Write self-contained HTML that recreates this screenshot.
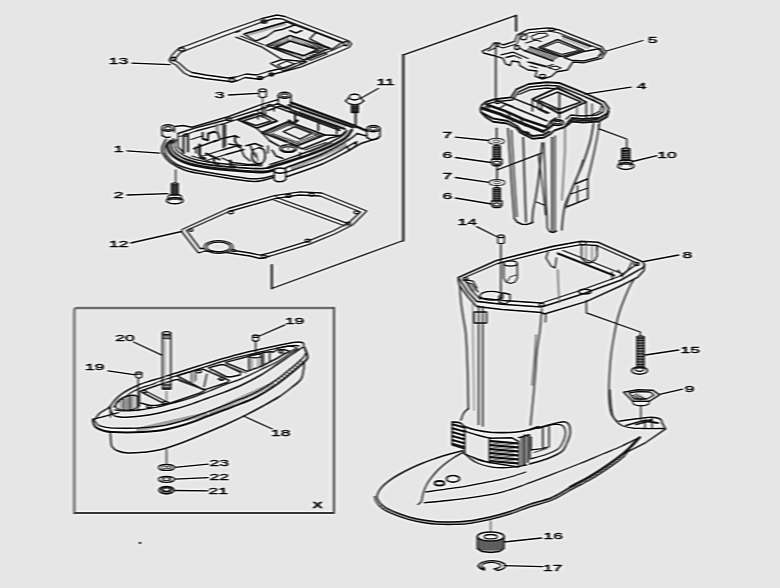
<!DOCTYPE html>
<html lang="en">
<head>
<meta charset="utf-8">
<title>Upper casing exploded parts diagram</title>
<style>
html,body{margin:0;padding:0;background:#e6e6e6;}
body{width:780px;height:588px;overflow:hidden;font-family:"Liberation Sans",Arial,sans-serif;}
#diagram{display:block;width:780px;height:588px;background:#e6e6e6;}
#diagram svg{display:block;}
</style>
</head>
<body>
<div id="diagram">
<svg width="780" height="588" viewBox="0 0 780 588">
<defs><filter id="soft" x="0" y="0" width="100%" height="100%" filterUnits="objectBoundingBox" color-interpolation-filters="sRGB"><feGaussianBlur in="SourceGraphic" stdDeviation="0.85 0.5" result="a"/><feGaussianBlur in="a" stdDeviation="2 1.3" result="b"/><feComposite in="a" in2="b" operator="arithmetic" k1="0" k2="1.4" k3="-0.4" k4="0"/></filter></defs>
<g filter="url(#soft)">
<rect x="-10" y="-10" width="800" height="608" fill="#e6e6e6"/>
<g fill="none" stroke="#202020" stroke-width="1.3" stroke-linecap="round" stroke-linejoin="round">
<!-- assembly bracket -->
<path d="M516.2 30.8 L516.2 15.4 L402.8 55.1"/>
<path d="M403.3 55.1 L403.3 240.5" stroke-width="2.3" stroke="#2a2a2a"/>
<path d="M403.3 240.5 L271.8 288.5"/>
<path d="M271.8 288.5 L271.8 264.9" stroke-width="2"/>
<path d="M516.2 30.8 L516.2 15.4" stroke-width="1.9"/>
<!-- inset box -->
<path d="M74.4 512.9 L74.4 310.4 Q74.4 307.9 77 307.9 L334 307.9" stroke="#7a7a7a" stroke-width="2.5"/>
<path d="M334 307.9 L334 512.9 L74.4 512.9" stroke="#4e4e4e" stroke-width="2"/>
<path d="M73.6 310 L73.6 512" stroke="#8a8a8a" stroke-width="1.6"/>
<!-- gasket 13 -->
<path d="M169 60 L172 55 L177 50 L180 47.5 L187 45.5 L223 32 L262 18.5 L277 15 L285 16.5 L349 41 L351.5 44 L349 47.5 L335 53.5 L300.6 67.2 L282 72 L270 75 L264 77.5 L257 79 L245 77.5 L238 80.5 L232 82 L226 81 L205 78.5 L190 76 L184 73 L176 65 L171 62.5 Z"/>
<path d="M174 60 L180 53 L188 49.5 L224 36 L262 22 L275 18.5 L282 18.8 L343.7 42.6 L344 45 L333 50 L299 62.5 L281 68.5 L268 71.5 L257 75 L246 74 L236 77 L228 78 L206 75 L192 72.5 L187 70 L179 63 Z"/>
<ellipse cx="173.5" cy="59" rx="2.4" ry="1.7" stroke-width="1.5"/>
<ellipse cx="181.8" cy="49.4" rx="2.8" ry="1.7" stroke-width="1.5"/>
<ellipse cx="232" cy="80" rx="2.8" ry="1.6" stroke-width="1.5"/>
<ellipse cx="260" cy="78" rx="2.6" ry="1.5" stroke-width="1.5"/>
<ellipse cx="271.4" cy="74.5" rx="2.2" ry="1.4" stroke-width="1.5"/>
<ellipse cx="264" cy="21.5" rx="3" ry="1.6" stroke-width="1.5"/>
<ellipse cx="346" cy="43.5" rx="1.8" ry="2.2" stroke-width="1.5"/>
<path d="M243.7 34.2 L286.8 21.8 L294.5 25 L282 29.5 L274.5 31 L266.8 36.5 L256 41 Z" stroke-width="1.4"/>
<path d="M245.2 33.5 L286 21.8"/>
<path d="M247.4 33 L248.9 35.4" stroke-width="1"/>
<path d="M250.2 32.2 L251.7 34.6" stroke-width="1"/>
<path d="M253 31.4 L254.5 33.8" stroke-width="1"/>
<path d="M255.8 30.6 L257.2 33" stroke-width="1"/>
<path d="M258.5 29.8 L260 32.2" stroke-width="1"/>
<path d="M261.3 29 L262.8 31.4" stroke-width="1"/>
<path d="M264.1 28.2 L265.6 30.6" stroke-width="1"/>
<path d="M266.9 27.4 L268.4 29.8" stroke-width="1"/>
<path d="M269.7 26.6 L271.2 29" stroke-width="1"/>
<path d="M272.5 25.8 L274 28.2" stroke-width="1"/>
<path d="M275.2 25 L276.8 27.4" stroke-width="1"/>
<path d="M278 24.2 L279.5 26.6" stroke-width="1"/>
<path d="M280.8 23.4 L282.3 25.8" stroke-width="1"/>
<path d="M283.6 22.6 L285.1 25" stroke-width="1"/>
<path d="M240 31 L236 32.3"/>
<path d="M236 37.2 L262 47.2 L282 59.5" stroke-width="1.4"/>
<path d="M240.5 36 L264 45" stroke-width="1.1"/>
<path d="M276 47.2 L289.8 41 L317.5 49.5 L303.7 55.7 Z" stroke-width="1.5"/>
<path d="M266 45.5 L289.8 35.5 L330 48 L303.7 59.8 Z" stroke-width="1.4"/>
<path d="M268.7 44.9 L277.7 47" stroke-width="1"/>
<path d="M271.1 43.9 L279.1 46.3" stroke-width="1"/>
<path d="M273.5 42.9 L280.6 45.7" stroke-width="1"/>
<path d="M275.9 41.9 L282 45.1" stroke-width="1"/>
<path d="M278.2 40.9 L283.4 44.5" stroke-width="1"/>
<path d="M280.6 39.9 L284.8 43.8" stroke-width="1"/>
<path d="M283 38.9 L286.2 43.2" stroke-width="1"/>
<path d="M285.4 37.9 L287.7 42.5" stroke-width="1"/>
<path d="M287.8 36.9 L289.1 41.9" stroke-width="1"/>
<path d="M292.4 36.8 L291.5 41.6" stroke-width="1"/>
<path d="M295.3 37.6 L293.6 42.2" stroke-width="1"/>
<path d="M298.2 38.5 L295.6 42.9" stroke-width="1"/>
<path d="M301.1 39.4 L297.6 43.5" stroke-width="1"/>
<path d="M304 40.3 L299.7 44.1" stroke-width="1"/>
<path d="M306.9 41.2 L301.7 44.8" stroke-width="1"/>
<path d="M309.8 42.1 L303.8 45.4" stroke-width="1"/>
<path d="M312.6 43 L305.8 46" stroke-width="1"/>
<path d="M315.5 44 L307.8 46.7" stroke-width="1"/>
<path d="M318.4 44.8 L309.9 47.3" stroke-width="1"/>
<path d="M321.3 45.8 L311.9 47.9" stroke-width="1"/>
<path d="M324.2 46.6 L313.9 48.6" stroke-width="1"/>
<path d="M327.1 47.5 L316 49.2" stroke-width="1"/>
<path d="M269.5 47 L278.6 48.3" stroke-width="1"/>
<path d="M272.4 48.1 L280.8 48.9" stroke-width="1"/>
<path d="M275.3 49.1 L283 49.5" stroke-width="1"/>
<path d="M278.2 50.2 L285.1 50.1" stroke-width="1"/>
<path d="M281.1 51.3 L287.3 50.7" stroke-width="1"/>
<path d="M284 52.3 L289.5 51.3" stroke-width="1"/>
<path d="M287 53.4 L291.7 52" stroke-width="1"/>
<path d="M289.9 54.4 L293.9 52.6" stroke-width="1"/>
<path d="M292.8 55.5 L296.1 53.2" stroke-width="1"/>
<path d="M295.7 56.6 L298.2 53.8" stroke-width="1"/>
<path d="M298.6 57.6 L300.4 54.4" stroke-width="1"/>
<path d="M301.5 58.7 L302.6 55" stroke-width="1"/>
<path d="M307 58.1 L305.5 54.9" stroke-width="1"/>
<path d="M311 56.4 L307.6 54" stroke-width="1"/>
<path d="M315 54.7 L309.7 53.1" stroke-width="1"/>
<path d="M319 52.9 L311.8 52.2" stroke-width="1"/>
<path d="M323 51.2 L313.9 51.3" stroke-width="1"/>
<path d="M327 49.5 L316 50.4" stroke-width="1"/>
<path d="M289.8 30.5 L296 33 L302 30.5" stroke-width="1.5"/>
<path d="M316 32.6 L342 42.6 L331.4 49.5 L309.8 38.8 Z" stroke-width="1.4"/>
<path d="M294.5 25 L316 32.6"/>
<path d="M308.3 58.8 L325.2 52.6 L327 54 L310 60.5 Z"/>
<path d="M270.6 63.4 L282 59.5 L306.8 61.8 L283.7 71 Z" stroke-width="1.4"/>
<path d="M277.5 65 L286.8 61 L294.5 64 L283.7 68.8 Z"/>
<ellipse cx="302" cy="62.5" rx="2" ry="1.2"/>
<path d="M132 63.2 L170 64.6"/>
<!-- pin 3 -->
<path d="M259 90.5 L259 96.5 L262.6 97.8 L266.3 96.5 L266.3 90.5"/>
<ellipse cx="262.6" cy="90.3" rx="3.6" ry="1.5"/>
<path d="M262.6 98.5 L262.6 107" stroke="#555"/>
<path d="M228.5 95 L257.7 93.3"/>
<!-- bolt 11 -->
<path d="M349 97 L350.5 94.8 L354.6 94 L358.7 94.8 L360.2 97 L358.7 99.2 L354.6 100 L350.5 99.2 Z"/>
<path d="M345.5 101 L349 97.5"/>
<path d="M363.8 101 L360.2 97.5"/>
<path d="M345.5 101 C346.1 101.4 347.5 103 349 103.6 C350.5 104.2 352.7 104.6 354.6 104.6 C356.5 104.6 358.7 104.2 360.2 103.6 C361.7 103 363.2 101.4 363.8 101"/>
<path d="M351.5 104.6 L351.5 112.5 L358.2 112.5 L358.2 104.6" stroke-width="1.5" fill="#4a4a4a"/>
<path d="M351.5 106.8 L358.2 106.8" stroke-width="1"/>
<path d="M351.5 108.4 L358.2 108.4" stroke-width="1"/>
<path d="M351.5 110.1 L358.2 110.1" stroke-width="1"/>
<path d="M351.5 111.7 L358.2 111.7" stroke-width="1"/>
<path d="M355.6 113.5 L355.6 127.4" stroke-width="1.9"/>
<path d="M378.2 88.5 L361.8 97.7"/>
<!-- part 1 -->
<ellipse cx="168" cy="128" rx="6.4" ry="3.2" stroke-width="1.5"/>
<ellipse cx="168" cy="128.2" rx="3.4" ry="1.6"/>
<path d="M161.6 128.3 L162.2 135.5" stroke-width="1.5"/>
<path d="M174.4 128.3 L174.4 132" stroke-width="1.5"/>
<path d="M162.2 135.5 C162.8 135.8 164.7 137.2 166 137.5 C167.3 137.8 169.3 137.1 170 137" stroke-width="1.5"/>
<ellipse cx="284.6" cy="95.2" rx="6.3" ry="3" stroke-width="1.5"/>
<ellipse cx="284.6" cy="95.4" rx="3.4" ry="1.5"/>
<path d="M278.3 95.3 L278.3 102" stroke-width="1.5"/>
<path d="M290.9 95.3 L290.9 104.5" stroke-width="1.5"/>
<ellipse cx="373.4" cy="128.6" rx="6.6" ry="3.2" stroke-width="1.5"/>
<ellipse cx="373.4" cy="128.8" rx="3.6" ry="1.6"/>
<path d="M366.8 128.8 L366.8 137.5 L371 139.7 L376 139.2 L380 136.4 L380 128.8" stroke-width="1.5"/>
<ellipse cx="280" cy="170.6" rx="5.8" ry="2.6" stroke-width="1.5"/>
<path d="M274.2 170.8 L274.2 180 L277.5 181.8 L282.5 181.6 L285.8 179.6 L285.8 170.8" stroke-width="1.5"/>
<path d="M175 126.5 L183 125.5 L192 127.3 L228.8 116.5 L261 104.6 L278 99.6" stroke-width="1.5"/>
<path d="M178 133.5 L195 128 L224.2 120.4 L262 108.5 L279 103.5" stroke-width="1.5"/>
<path d="M180 136.5 L196 131 L225 123.4 L255 113.5"/>
<ellipse cx="228.8" cy="119.2" rx="3" ry="1.4"/>
<path d="M290.8 102.5 L355 125.8 L366.7 130.8" stroke-width="2.4"/>
<path d="M288.3 105 L353.3 127.5" stroke-width="1.9"/>
<path d="M285 107.5 L345 129.2" stroke-width="1.8"/>
<path d="M290 111 L340 129"/>
<path d="M301.4 110 L300.4 113" stroke-width="1"/>
<path d="M304.3 111 L303.3 114" stroke-width="1"/>
<path d="M307.2 112.1 L306.1 115" stroke-width="1"/>
<path d="M310.1 113.1 L309 116" stroke-width="1"/>
<path d="M312.9 114.1 L311.8 117" stroke-width="1"/>
<path d="M315.8 115.2 L314.6 118" stroke-width="1"/>
<path d="M318.7 116.2 L317.5 119" stroke-width="1"/>
<path d="M321.6 117.2 L320.3 120" stroke-width="1"/>
<path d="M324.4 118.3 L323.2 121.1" stroke-width="1"/>
<path d="M327.3 119.3 L326 122.1" stroke-width="1"/>
<path d="M330.2 120.3 L328.9 123.1" stroke-width="1"/>
<path d="M333.1 121.4 L331.7 124.1" stroke-width="1"/>
<path d="M335.9 122.4 L334.5 125.1" stroke-width="1"/>
<path d="M338.8 123.4 L337.4 126.1" stroke-width="1"/>
<path d="M341.7 124.5 L340.2 127.1" stroke-width="1"/>
<path d="M344.6 125.5 L343.1 128.1" stroke-width="1"/>
<path d="M165.8 139.6 C165.2 140.9 162.5 145 162 147.3 C161.5 149.6 161.3 150.9 162.7 153.5 C164.1 156.1 166.6 159.9 170.4 162.7 C174.2 165.5 179.4 168.3 185.8 170.4 C192.2 172.5 198.6 173.2 208.8 175 C219.1 176.8 238.6 180 247.3 181 C256 182 256.6 181.4 261 180.8 C265.4 180.2 271.4 178.1 273.5 177.5" stroke-width="1.6"/>
<path d="M286.5 176.8 C292.4 174.7 311.4 168.5 321.7 164.2 C332 159.9 341.6 154.3 348.3 150.8 C355 147.3 356.7 145.4 361.7 143.3 C366.7 141.2 375.5 139.1 378.3 138.3" stroke-width="1.6"/>
<path d="M286 172.5 C291.8 170.4 310.8 164.5 321 160.2 C331.2 155.9 343.1 148.9 347.5 146.7"/>
<path d="M170.4 141 C169.9 141.8 167 143.5 167.3 145.8 C167.6 148.1 168.9 152.2 172 155 C175.1 157.8 180.2 160.6 185.8 162.7 C191.4 164.8 197.6 166 205.8 167.3 C214 168.6 225.5 169.6 235 170.4 C244.5 171.2 256.2 172.1 262.7 172 C269.2 171.9 272.1 170.2 274 169.8" stroke-width="2.9"/>
<path d="M173.5 139 C173.1 140.2 170.7 143.6 171 146 C171.3 148.4 172.7 151.2 175.5 153.5 C178.3 155.8 182.8 158.2 188 160 C193.2 161.8 199 163.3 207 164.5 C215 165.7 226.8 166.7 236 167.4 C245.2 168.1 255.8 168.8 262 168.6 C268.2 168.4 271.2 166.8 273 166.4" stroke-width="1.9"/>
<path d="M167 143 C166.6 144 164.5 146.8 164.5 149 C164.5 151.2 165.1 153.5 167 156 C168.9 158.5 172.2 161.8 176 164 C179.8 166.2 184.5 167.6 190 169 C195.5 170.4 199.5 171 209 172.6 C218.5 174.2 238.2 177.5 247 178.4 C255.8 179.3 257.5 178.7 262 178.2 C266.5 177.7 272 175.9 274 175.4" stroke-width="1.5"/>
<path d="M176 140 C175.8 141 174.1 144 174.5 146 C174.9 148 175.9 150 178.5 152 C181.1 154 185.1 156.1 190 157.8 C194.9 159.5 200.3 160.8 208 162 C215.7 163.2 227 164.2 236 164.8 C245 165.4 257.7 165.6 262 165.8"/>
<path d="M268.3 167.5 C271.6 166.5 279.4 164.6 288.3 161.7 C297.2 158.8 312.2 153.9 321.7 150 C331.1 146.1 340 141.6 345 138.3 C350 135 350.6 131.4 351.7 130" stroke-width="2.8"/>
<path d="M270 164.5 C273.1 163.5 280 161.5 288.3 158.6 C296.6 155.7 311.1 150.8 320 147 C328.9 143.2 337.5 138.8 342 136 C346.5 133.2 346.2 131.4 347 130.5" stroke-width="1.5"/>
<path d="M286.5 168 C286.8 167.8 282.4 169 288.3 166.7 C294.2 164.4 311.7 158.6 321.7 154.2 C331.7 149.8 342.4 143.4 348.3 140 C354.2 136.6 355.6 134.6 357 133.5" stroke-width="1.6"/>
<path d="M291.3 165.9 L292.3 169.9" stroke-width="1"/>
<path d="M293.8 164.8 L294.8 168.8" stroke-width="1"/>
<path d="M296.4 163.7 L297.4 167.7" stroke-width="1"/>
<path d="M298.9 162.6 L299.9 166.6" stroke-width="1"/>
<path d="M301.5 161.5 L302.5 165.5" stroke-width="1"/>
<path d="M304 160.4 L305 164.4" stroke-width="1"/>
<path d="M306.5 159.3 L307.5 163.3" stroke-width="1"/>
<path d="M309.1 158.1 L310.1 162.1" stroke-width="1"/>
<path d="M311.6 157 L312.6 161" stroke-width="1"/>
<path d="M314.2 155.9 L315.2 159.9" stroke-width="1"/>
<path d="M316.7 154.8 L317.7 158.8" stroke-width="1"/>
<path d="M319.3 153.7 L320.3 157.7" stroke-width="1"/>
<path d="M321.8 152.6 L322.8 156.6" stroke-width="1"/>
<path d="M324.4 151.5 L325.4 155.5" stroke-width="1"/>
<path d="M326.9 150.4 L327.9 154.4" stroke-width="1"/>
<path d="M329.5 149.2 L330.5 153.2" stroke-width="1"/>
<path d="M332 148.1 L333 152.1" stroke-width="1"/>
<path d="M334.5 147 L335.5 151" stroke-width="1"/>
<path d="M337.1 145.9 L338.1 149.9" stroke-width="1"/>
<path d="M339.6 144.8 L340.6 148.8" stroke-width="1"/>
<path d="M342.2 143.7 L343.2 147.7" stroke-width="1"/>
<path d="M344.7 142.6 L345.7 146.6" stroke-width="1"/>
<path d="M347.5 146.7 L356.7 141.7 L355.5 146 L349 150.5 Z" stroke-width="1.5"/>
<path d="M357 133.5 L366.5 136"/>
<path d="M183.5 135.8 L183.5 152.7" stroke-width="2.1"/>
<path d="M188 134.5 L188 151.5" stroke-width="2.1"/>
<ellipse cx="185.8" cy="135" rx="2.3" ry="1.1"/>
<path d="M178 133.5 L178 147 L184 153" stroke-width="1.5"/>
<path d="M176 140 L172 143.5"/>
<path d="M191 139.5 L202 136"/>
<path d="M193.5 148.8 L215 141" stroke-width="1.5"/>
<path d="M202.7 132.7 L202.7 138.8 L208 140.4 L208 133.5" stroke-width="2"/>
<path d="M208.8 133.5 L213 131.8 L218 132.7 L219.6 139.6 L214 141.5" stroke-width="1.9"/>
<path d="M216.5 124.2 L216.5 132" stroke-width="1.8" stroke="#777"/>
<path d="M218.8 124.2 L218.8 132" stroke="#999"/>
<path d="M223.5 125 L223.5 147.3" stroke-width="2"/>
<path d="M225.5 125 L225.5 146"/>
<path d="M199.6 145 L199.6 154 L201 157.5 L205 158.5" stroke-width="2.8"/>
<path d="M196 147 L196 153" stroke-width="1.6"/>
<path d="M205.8 153.5 L219.6 159.6" stroke-width="2"/>
<path d="M203 156 L222 150 L240 145"/>
<path d="M208 160 L226 154.5 L244 149.5"/>
<path d="M214 158 L214 163 L218.5 164.2" stroke-width="2.3"/>
<path d="M221.2 138.8 L235 135.8 L238.8 137.5" stroke-width="1.6"/>
<path d="M235 135.8 L235 141.2 L238.8 147.3" stroke-width="1.9"/>
<path d="M228.8 144 L241.5 146" stroke-width="1.5"/>
<path d="M230.4 161 L231 167 L235 167" stroke-width="2.8"/>
<path d="M245.8 145.8 L255 143.5 L262.7 146.5" stroke-width="1.6"/>
<path d="M250 144.5 L252 150 L256 157" stroke-width="1.5"/>
<path d="M252 150 L258 148"/>
<path d="M253 150 C252.8 151.3 251.5 155.8 252 158 C252.5 160.2 254.3 162.2 256 163 C257.7 163.8 260.5 163.8 262 163 C263.5 162.2 264.7 160.2 265 158 C265.3 155.8 265 151.8 264 150 C263 148.2 259.8 147.9 259 147.5" stroke-width="1.8"/>
<path d="M256 153 L258 161" stroke="#555"/>
<path d="M222 158 L232 162.5 L248 164.5 L262 164"/>
<path d="M192 156 L210 161.5"/>
<path d="M240 146 L244 156 L250 161" stroke-width="1.5"/>
<path d="M238.2 120 L260.8 112.8 L277 121 L256.7 128.2 Z" stroke-width="1.9"/>
<path d="M243 121 L260.8 115.5 L271 121 L256 125.5 Z" stroke-width="1.4"/>
<path d="M262.4 107 L262.4 117" stroke-width="2"/>
<path d="M258 110 L258 119" stroke-width="1.5"/>
<path d="M265.5 108 L265.5 116" stroke-width="1.5"/>
<path d="M266 106 L270 104.5 L274 106.5 L274 111" stroke-width="1.6"/>
<path d="M268 110.5 L280 106 L286 108" stroke-width="1.5"/>
<path d="M261.7 132.5 L288.3 121.7 L325 135 L296.7 145.8 Z" stroke-width="1.8"/>
<path d="M283.3 131.7 L295 126.7 L311.7 133.3 L300 139.2 Z" stroke-width="1.4"/>
<path d="M264.1 131.6 L269.1 133.8" stroke-width="1.1"/>
<path d="M266.3 130.7 L271.3 132.9" stroke-width="1.1"/>
<path d="M268.6 129.8 L273.5 132" stroke-width="1.1"/>
<path d="M270.8 128.9 L275.6 131.1" stroke-width="1.1"/>
<path d="M273 128 L277.8 130.2" stroke-width="1.1"/>
<path d="M275.2 127.2 L280 129.3" stroke-width="1.1"/>
<path d="M277.5 126.3 L282.2 128.4" stroke-width="1.1"/>
<path d="M279.7 125.4 L284.4 127.5" stroke-width="1.1"/>
<path d="M281.9 124.5 L286.5 126.6" stroke-width="1.1"/>
<path d="M284.2 123.6 L288.7 125.7" stroke-width="1.1"/>
<path d="M286.4 122.7 L290.9 124.8" stroke-width="1.1"/>
<path d="M291.3 123 L288.7 125.3" stroke-width="1.1"/>
<path d="M293.9 123.9 L291.2 126.2" stroke-width="1.1"/>
<path d="M296.4 124.8 L293.7 127.1" stroke-width="1.1"/>
<path d="M299 125.8 L296.1 128" stroke-width="1.1"/>
<path d="M301.6 126.7 L298.6 128.9" stroke-width="1.1"/>
<path d="M304.2 127.7 L301 129.8" stroke-width="1.1"/>
<path d="M306.8 128.6 L303.5 130.8" stroke-width="1.1"/>
<path d="M309.3 129.5 L306 131.7" stroke-width="1.1"/>
<path d="M311.9 130.5 L308.4 132.6" stroke-width="1.1"/>
<path d="M314.5 131.4 L310.9 133.5" stroke-width="1.1"/>
<path d="M317.1 132.4 L313.3 134.4" stroke-width="1.1"/>
<path d="M319.6 133.3 L315.8 135.3" stroke-width="1.1"/>
<path d="M322.2 134.2 L318.3 136.2" stroke-width="1.1"/>
<path d="M269.3 135.5 L273.8 133.7" stroke-width="1.1"/>
<path d="M271.8 136.4 L276.3 134.6" stroke-width="1.1"/>
<path d="M274.4 137.3 L278.9 135.5" stroke-width="1.1"/>
<path d="M276.9 138.2 L281.4 136.3" stroke-width="1.1"/>
<path d="M279.5 139.1 L284 137.2" stroke-width="1.1"/>
<path d="M282 140 L286.5 138.1" stroke-width="1.1"/>
<path d="M284.5 140.9 L289 138.9" stroke-width="1.1"/>
<path d="M287.1 141.8 L291.6 139.8" stroke-width="1.1"/>
<path d="M289.6 142.7 L294.1 140.6" stroke-width="1.1"/>
<path d="M292.2 143.6 L296.7 141.5" stroke-width="1.1"/>
<path d="M294.7 144.5 L299.2 142.4" stroke-width="1.1"/>
<path d="M300.4 143.5 L298.3 141" stroke-width="1.1"/>
<path d="M303.3 142.4 L300.9 140" stroke-width="1.1"/>
<path d="M306.2 141.3 L303.6 139" stroke-width="1.1"/>
<path d="M309.1 140.3 L306.2 138" stroke-width="1.1"/>
<path d="M311.9 139.2 L308.8 137" stroke-width="1.1"/>
<path d="M314.8 138.2 L311.4 136" stroke-width="1.1"/>
<path d="M317.7 137.1 L314.1 135" stroke-width="1.1"/>
<path d="M320.6 136 L316.7 134" stroke-width="1.1"/>
<path d="M289 120.5 L293.3 123.5 L297.5 120.5" stroke-width="2.5"/>
<path d="M295 111.7 L295 121.7" stroke-width="2"/>
<path d="M318.3 120 L318.3 130" stroke-width="1.8"/>
<path d="M336.7 126 L336.7 133.5" stroke-width="1.6"/>
<path d="M277 103.5 L291 108.5" stroke-width="1.5"/>
<path d="M276 107 L340 130.5" stroke-width="1.6"/>
<path d="M299 113.5 L336 127"/>
<path d="M325 135 L341 135.5 L346 131" stroke-width="1.5"/>
<path d="M296.7 145.8 L302 149 L330 138 L341 135.5" stroke-width="1.5"/>
<ellipse cx="288.3" cy="148.5" rx="8.5" ry="3.8" stroke-width="1.6"/>
<ellipse cx="288.3" cy="149" rx="6" ry="2.4"/>
<path d="M288.3 139 L288.3 149" stroke-width="1.9" stroke="#777"/>
<path d="M270 141 L279 146" stroke-width="1.5"/>
<path d="M262 133 L270 141" stroke-width="1.5"/>
<path d="M256.7 128.2 L262 133" stroke-width="1.5"/>
<path d="M268 146 L268 153" stroke-width="1.5"/>
<path d="M272 150 L276 156 L283 158.5" stroke-width="1.5"/>
<path d="M305 150 L326 142.5"/>
<path d="M300 152.5 L300 156.5" stroke-width="1.5"/>
<path d="M310 152 L332 143" stroke="#444"/>
<path d="M175.6 170 L175.6 182.6" stroke="#333"/>
<path d="M127 150.8 L159.7 153.2"/>
<!-- bolt 2 -->
<path d="M171.5 184 L171.5 194.5 L178 194.5 L178 184" stroke-width="1.5" fill="#555"/>
<ellipse cx="174.8" cy="184" rx="3.2" ry="1.2"/>
<path d="M171.5 187 L178 187" stroke-width="1"/>
<path d="M171.5 189 L178 189" stroke-width="1"/>
<path d="M171.5 191 L178 191" stroke-width="1"/>
<path d="M171.5 193 L178 193" stroke-width="1"/>
<path d="M168 196.5 L169.5 195 L180 195 L181.5 196.5 L181.5 199 L168 199 Z"/>
<ellipse cx="174.8" cy="200.6" rx="8.4" ry="3.2" stroke-width="1.5"/>
<path d="M169.5 199 L169.5 200.5"/>
<path d="M180 199 L180 200.5"/>
<path d="M127 195 L168 193.6"/>
<!-- gasket 12 -->
<path d="M182 229.5 L228.2 208.5 L274.4 195.6 L300 191.8 L321.8 193 L366.7 211 L352.6 225 L334.6 234 L309 244.4 L270.5 256 L260 258.5 L250 256 L223 252 L205 251 L198.7 253 L196 250 L182 232 Z"/>
<path d="M186.5 230.5 L229 211.5 L275 198.6 L299 195 L320 196 L360.5 212 L349 222.5 L333 231 L308 241.2 L270 252.8 L260 255.2 L250 253 L234 250.5"/>
<path d="M186.5 230.5 L200 248.5 L204 248.5"/>
<ellipse cx="218.5" cy="247" rx="14.6" ry="6.4"/>
<ellipse cx="218.5" cy="247" rx="11.8" ry="4.8"/>
<path d="M278 198 L348.7 223.8"/>
<path d="M274 200 L345 226"/>
<path d="M278 198 L276 196.5"/>
<ellipse cx="230.8" cy="212.3" rx="2.6" ry="1.5"/>
<ellipse cx="191" cy="230" rx="2" ry="1.4"/>
<ellipse cx="264" cy="256.7" rx="2.6" ry="1.5"/>
<ellipse cx="288.5" cy="195.9" rx="2.6" ry="1.4"/>
<ellipse cx="311.5" cy="194.6" rx="2.6" ry="1.4"/>
<ellipse cx="356.4" cy="212.3" rx="2.4" ry="1.5"/>
<ellipse cx="307.7" cy="240.7" rx="2.6" ry="1.5"/>
<ellipse cx="348.2" cy="223.6" rx="2.4" ry="1.5"/>
<ellipse cx="233.5" cy="250.5" rx="2" ry="1.2"/>
<path d="M130.8 243 L181.5 231.5"/>
<!-- gasket 5 -->
<path d="M482.3 51.2 L490.4 47.6 L494 43 L499.3 43 L503 45 L514.6 41.3 L517.3 35 L528 29.7 L547.8 27.9 L558.6 29.7 L601.7 46.7 L606.1 52.1 L601.7 58.4 L583.7 62.9 L572.9 62 L567.5 70 L556.8 71.8 L551.4 76.3 L542.4 79 L535.2 76.3 L537 71 L528 70 L520 65.6 L519 62 L512 61 L510 65.6 L505.6 63.8 L503 58.4 L494 55.7 L483.5 53 Z" stroke-width="1.4"/>
<path d="M488 51 L494 48.5 L497 46 L503 48 L516.5 44 L520 37.5 L529 32.8 L547.5 31 L557.5 32.5 L598 48.3 L601.5 52 L598.5 56" stroke-width="1.1"/>
<path d="M538.8 47.6 L557.7 39.5 L583.7 50.3 L562.2 56.6 Z" stroke-width="1.6"/>
<path d="M542.5 47.8 L557.7 41.8 L579.5 50.3 L562.2 54.4 Z" stroke-width="1.1"/>
<path d="M564 57.5 L585.5 51.2 L599.9 48.5 L603.4 53 L598 57.5 L583.7 61 L571.1 60.2 Z" stroke-width="1.4"/>
<ellipse cx="523.6" cy="36.8" rx="3.4" ry="3"/>
<ellipse cx="497" cy="45.3" rx="1.8" ry="1.4"/>
<ellipse cx="542.5" cy="76" rx="3" ry="1.6"/>
<ellipse cx="552" cy="29.6" rx="3" ry="1.4"/>
<path d="M531 36.5 L538 33.5 L546 33 L548 35.5 L540 38.5 L533 39.5 Z" stroke-width="1.1"/>
<path d="M526 43 L536 40 L541 41.5"/>
<path d="M529.8 46.7 L560.4 56.6" stroke-width="1.5"/>
<path d="M524 50.5 L553 61" stroke-width="1.5"/>
<path d="M531 47.4 L526.1 50.7" stroke-width="1"/>
<path d="M533.3 48.1 L528.3 51.5" stroke-width="1"/>
<path d="M535.6 48.9 L530.5 52.3" stroke-width="1"/>
<path d="M537.9 49.6 L532.7 53.1" stroke-width="1"/>
<path d="M540.3 50.4 L534.9 53.9" stroke-width="1"/>
<path d="M542.6 51.1 L537.1 54.7" stroke-width="1"/>
<path d="M544.9 51.9 L539.2 55.5" stroke-width="1"/>
<path d="M547.2 52.7 L541.4 56.2" stroke-width="1"/>
<path d="M549.5 53.4 L543.6 57" stroke-width="1"/>
<path d="M551.9 54.2 L545.8 57.8" stroke-width="1"/>
<path d="M554.2 54.9 L548 58.6" stroke-width="1"/>
<path d="M556.5 55.7 L550.2 59.4" stroke-width="1"/>
<path d="M558.8 56.4 L552.4 60.2" stroke-width="1"/>
<path d="M562.2 36 L590.9 46.7"/>
<path d="M564.4 37.3 L562.9 39.3" stroke-width="0.9"/>
<path d="M567 38.3 L565.5 40.3" stroke-width="0.9"/>
<path d="M569.8 39.3 L568.2 41.3" stroke-width="0.9"/>
<path d="M572.5 40.4 L571 42.4" stroke-width="0.9"/>
<path d="M575.1 41.4 L573.6 43.4" stroke-width="0.9"/>
<path d="M577.9 42.4 L576.4 44.4" stroke-width="0.9"/>
<path d="M580.5 43.4 L579 45.4" stroke-width="0.9"/>
<path d="M583.2 44.5 L581.8 46.5" stroke-width="0.9"/>
<path d="M586 45.5 L584.5 47.5" stroke-width="0.9"/>
<path d="M588.6 46.5 L587.1 48.5" stroke-width="0.9"/>
<path d="M501 54.8 L513 52.2 L528 58.5"/>
<path d="M506 57.5 L514 55.5 L521 58.5"/>
<path d="M519 47.5 L524 50.5"/>
<ellipse cx="517" cy="47.5" rx="2.4" ry="2"/>
<path d="M528 62 L546 66.5 L553 64.5"/>
<path d="M530 66 L537 68"/>
<path d="M548 67.5 L556 66 L561 68 L556 70 Z" stroke-width="1.1"/>
<path d="M532.2 61.8 L533.2 64.1" stroke-width="0.9"/>
<path d="M534.8 62.5 L535.8 64.8" stroke-width="0.9"/>
<path d="M537.2 63.2 L538.2 65.5" stroke-width="0.9"/>
<path d="M539.8 63.8 L540.8 66.1" stroke-width="0.9"/>
<path d="M542.2 64.5 L543.2 66.8" stroke-width="0.9"/>
<path d="M544.8 65.2 L545.8 67.5" stroke-width="0.9"/>
<path d="M606.5 51 L642.8 40.5"/>
<path d="M495.7 48.5 L495.7 97.4" stroke-width="1.5"/>
<!-- part 4 -->
<path d="M480.4 109 L482 105 L485.8 102 L494.7 99.2 L511 97.4 L516.3 89.4 L528.8 84 L546.8 82.2 L559.4 83 L586.3 93.8 L604.2 102 L608.7 108.2 L607 113.6 L598.9 118 L582.7 119 L572 118 L568.3 121.7 L564.7 127 L554 130.6 L550.4 134.2 L543.2 137.8 L532.4 138.7 L519.9 132.4 L516.3 128 L507.3 123.5 L493 121.7 L485.8 117.2 L481 112 Z" stroke-width="1.9"/>
<path d="M486 104.5 L495 101.8 L512.5 100 L518.5 92 L529.5 87 L546.8 85.2 L558.5 86 L584.5 96.5 L601 104 L604.5 108.5 L603 112 L597 115 L582.7 116 L571 115 L566 119" stroke-width="1.4"/>
<path d="M519 94.5 L530 89.8 L546.5 88 L557.6 88.8 L581 98.5"/>
<path d="M483 108.5 L500 114 L520 122.5 L543 131.5" stroke-width="3.3"/>
<path d="M486.5 104.5 L505 111 L524 119.5 L546.5 127" stroke-width="2.5"/>
<path d="M482 113 L493 118.5 L508 121 L517 126 L521 130.5 L532.5 136 L543 135 L549.5 131.5" stroke-width="2"/>
<path d="M494.7 99.5 L520 110 L547 121" stroke-width="1.6"/>
<path d="M511 97.4 L534 106.5 L549 113" stroke-width="1.5"/>
<path d="M543 131.5 L549 128 L553 124.5" stroke-width="2.5"/>
<path d="M546.5 127 L551 121 L556 118" stroke-width="1.8"/>
<path d="M564.7 127 L568.3 124.5 L572 121.5 L582.7 122.5 L598.9 121.5 L607 117 L608.7 111.5" stroke-width="1.9"/>
<path d="M568.3 121.7 L573 119.8 L583 120.6 L598 119.6" stroke-width="1.6"/>
<path d="M599.9 118 L600.4 120.8" stroke-width="1"/>
<path d="M601.5 117 L602.1 119.7" stroke-width="1"/>
<path d="M603.2 116 L603.9 118.7" stroke-width="1"/>
<path d="M605 115 L605.7 117.6" stroke-width="1"/>
<path d="M606.6 114 L607.4 116.5" stroke-width="1"/>
<path d="M532.4 99.2 L557.6 87.6 L586.3 102 L559.4 113.6 Z" stroke-width="1.9"/>
<path d="M537.8 100 L557.6 92 L581 102 L559.4 109.5 Z" stroke-width="1.4"/>
<path d="M559.4 93 L559.4 118" stroke-width="1.6"/>
<path d="M586.3 103 L586.3 118" stroke-width="1.4"/>
<path d="M532.4 100 L532.4 111" stroke-width="1.5"/>
<path d="M537.8 101 L537.8 109 L547 113.5"/>
<path d="M541.5 103 L541.5 110.5" stroke-width="1.5"/>
<path d="M547 106.5 L559 110.5"/>
<path d="M577 105 L577 117" stroke="#555"/>
<path d="M592 104 L592 117" stroke="#444"/>
<path d="M586 97.5 L594 100 L602 105 L600 111 L592 115"/>
<ellipse cx="557.6" cy="122.6" rx="6" ry="2.8" stroke-width="1.8"/>
<ellipse cx="557.6" cy="122.6" rx="3.2" ry="1.3"/>
<ellipse cx="526" cy="133.5" rx="3.2" ry="1.5"/>
<ellipse cx="497.5" cy="102.2" rx="2.2" ry="1.3"/>
<ellipse cx="487.5" cy="107" rx="2" ry="1.2"/>
<path d="M500 108 L506 104.2 L513 106.5"/>
<path d="M520 118 L525 126"/>
<path d="M508 113.5 L513 121.5"/>
<path d="M584.9 94.1 L631 87.1"/>
<path d="M508 128.6 L510 160 L512 190 L514.2 218.3 L517 222 L522 224.3 L526 224.6 L530 223.5 L533 222" stroke-width="1.5"/>
<path d="M511.5 130.4 L513.5 165 L515.5 195 L517 216.5"/>
<path d="M523.2 137.6 L524.5 180 L526 222" stroke-width="1.5"/>
<path d="M542 143 C541.8 145.8 541.1 154 540.5 160 C539.9 166 539.2 172.8 538.5 178.8 C537.8 184.8 536.9 190.6 536 196 C535.1 201.4 533.6 206.5 533 211 C532.4 215.5 532.3 220.8 532.2 222.8" stroke-width="1.5"/>
<path d="M538.5 155.5 C538.9 158.8 540.1 168.1 541 175 C541.9 181.9 543 190.2 543.8 196.8 C544.6 203.4 545.3 211.8 545.6 214.8"/>
<path d="M536.7 202 L543.8 205"/>
<path d="M543.8 143 L545.5 185 L547.4 228 L549.5 231.5 L553 232.5 L556.5 231" stroke-width="1.4"/>
<path d="M552 137.6 L552 231" stroke-width="1.6"/>
<path d="M555 136 L555 231.5"/>
<path d="M593.5 123.5 C593.1 125.9 592.1 133.2 591 138 C589.9 142.8 588.5 147.3 587 152 C585.5 156.7 583.8 161.5 582 166 C580.2 170.5 578.1 174.5 576.2 178.8 C574.3 183.1 572.3 187.8 570.5 192 C568.7 196.2 566.6 199.8 565.4 204 C564.1 208.2 563.6 212.7 563 217 C562.4 221.3 562 227.8 561.8 230" stroke-width="1.5"/>
<path d="M600 120 C599.5 123 598.1 132.2 597 138 C595.9 143.8 594.7 149.7 593.5 155 C592.3 160.3 591 166 590 170 C589 174 588.2 177.3 587.8 178.8"/>
<path d="M574.4 184.2 L587.8 178.8 L587.8 198.6 L567.2 206.7" stroke-width="1.5"/>
<path d="M577.5 186 L577.5 202.5"/>
<path d="M571 194 L587.8 188"/>
<path d="M583 160 C582.3 162 580.4 168 579 172 C577.6 176 576.1 180 574.4 184.2 C572.7 188.4 570.4 193 569 197 C567.6 201 566.5 206.2 566 208" stroke="#444"/>
<path d="M565 128 L565 150 L563.5 175 L562 200" stroke="#666"/>
<path d="M497.2 169.9 L542 152.8"/>
<!-- washers 7 bolts 6 -->
<ellipse cx="496.4" cy="141.3" rx="8" ry="3" stroke-width="1.1" stroke="#444"/>
<ellipse cx="496.4" cy="141.3" rx="3.6" ry="1.3" stroke-width="1" stroke="#555"/>
<ellipse cx="497" cy="182.6" rx="8" ry="3" stroke-width="1.1" stroke="#444"/>
<ellipse cx="497" cy="182.6" rx="3.6" ry="1.3" stroke-width="1" stroke="#555"/>
<path d="M493.3 146.7 L493.3 158.7 L500.3 158.7 L500.3 146.7" stroke-width="1.5" fill="#666"/>
<ellipse cx="496.8" cy="146.7" rx="3.5" ry="1.2"/>
<path d="M493.3 149.8 L500.3 149.8" stroke-width="1"/>
<path d="M493.3 152.1 L500.3 152.1" stroke-width="1"/>
<path d="M493.3 154.3 L500.3 154.3" stroke-width="1"/>
<path d="M493.3 156.6 L500.3 156.6" stroke-width="1"/>
<path d="M491.6 159.2 L502 159.2 L502 163.7 L500 165.7 L493.6 165.7 L491.6 163.7 Z" stroke-width="1.5"/>
<ellipse cx="496.8" cy="162.7" rx="3.2" ry="1.6"/>
<path d="M493.3 188.5 L493.3 200.5 L500.3 200.5 L500.3 188.5" stroke-width="1.5" fill="#666"/>
<ellipse cx="496.8" cy="188.5" rx="3.5" ry="1.2"/>
<path d="M493.3 191.6 L500.3 191.6" stroke-width="1"/>
<path d="M493.3 193.9 L500.3 193.9" stroke-width="1"/>
<path d="M493.3 196.1 L500.3 196.1" stroke-width="1"/>
<path d="M493.3 198.4 L500.3 198.4" stroke-width="1"/>
<path d="M491.6 201 L502 201 L502 205.5 L500 207.5 L493.6 207.5 L491.6 205.5 Z" stroke-width="1.5"/>
<ellipse cx="496.8" cy="204.5" rx="3.2" ry="1.6"/>
<path d="M496.6 128.2 L496.6 138" stroke-width="1.5"/>
<path d="M497 144.5 L497 146.5"/>
<path d="M497 166 L497 179.5" stroke-width="1.5"/>
<path d="M497 185.7 L497 188.5"/>
<path d="M455.4 137.2 L488.7 140.5"/>
<path d="M455.4 157.5 L491 162.5"/>
<path d="M455.4 177.5 L489 182.3"/>
<path d="M455.4 198 L491.5 204"/>
<!-- bolt 10 -->
<path d="M598.5 124.9 L598.5 128.7 L626.7 139 L626.7 147.5"/>
<path d="M621.8 149.3 L621.8 159.5 L629.8 159.5 L629.8 149.3" stroke-width="1.5" fill="#666"/>
<ellipse cx="625.8" cy="149.3" rx="4" ry="1.3"/>
<path d="M621.8 151.9 L629.8 150.6" stroke-width="1"/>
<path d="M621.8 153.8 L629.8 152.9" stroke-width="1"/>
<path d="M621.8 155.7 L629.8 155.1" stroke-width="1"/>
<path d="M621.8 157.6 L629.8 157.4" stroke-width="1"/>
<path d="M619.5 160.5 L632 160.5 L632 164 L619.5 164 Z" stroke-width="1.5"/>
<ellipse cx="625.8" cy="166" rx="8.2" ry="3.4" stroke-width="1.5"/>
<path d="M621 164 L621 166"/>
<path d="M630.5 164 L630.5 166"/>
<path d="M632.6 161.5 L657 155.6"/>
<!-- pin 14 -->
<path d="M497.8 236.5 L497.8 242.8 L501 244 L504.3 242.8 L504.3 236.5"/>
<ellipse cx="501" cy="236.3" rx="3.3" ry="1.4"/>
<path d="M500.8 245 L500.8 300" stroke-width="1.4"/>
<path d="M476.7 226.7 L496.4 236.5"/>
<!-- part 8 -->
<path d="M458.3 277.4 L496.4 260.5 L552.8 246.4 L581 241.3 L598 242.2 L643 262 L644.5 264.8 L643 267.6 L620.5 280.3 L581 294.4 L541.6 307 L502 304.2 L476.7 301.4 L468 292 Z" stroke-width="1.6"/>
<path d="M463.5 278 L497.5 263.5 L553 249.6 L581 244.6 L597 245.5 L638 263.5 L619 276.5 L580 290.5 L541.5 303 L503 300.5 L479 298 L470.5 289.5 Z"/>
<path d="M458.3 277.4 L458.3 281 L459.7 286 L468 297 L476.7 306.5 L502 309.5 L541.6 312.5 L544.4 314 L586.7 301.4 L620.5 286 L637.5 277.4 L644 270.5 L644.5 264.8" stroke-width="1.5"/>
<ellipse cx="465.5" cy="279.2" rx="2.6" ry="1.6"/>
<ellipse cx="541.6" cy="304.8" rx="2.6" ry="1.4"/>
<ellipse cx="636.5" cy="264" rx="2.6" ry="1.6"/>
<ellipse cx="583" cy="243.2" rx="3.2" ry="1.5"/>
<ellipse cx="585" cy="291.6" rx="6" ry="2.4" stroke-width="1.6"/>
<path d="M465.5 279.6 L473 281.2 L477 288"/>
<path d="M468 283 L474 291" stroke="#555"/>
<path d="M557.7 270 L558.4 286 L559.2 302.7" stroke="#666"/>
<path d="M548 252 L546 258 L551 266 L555 268 L556.5 258"/>
<path d="M558 253.5 L614 275.5" stroke-width="2.3"/>
<path d="M563 250.5 L619 272.5"/>
<path d="M581.5 245 L581.5 258 L585 262 L590 263 L595 260 L597 256 L597 246"/>
<path d="M586 246 L586 261" stroke="#777"/>
<path d="M592 246.5 L592 261" stroke="#777"/>
<path d="M597 245.5 L597 250"/>
<path d="M612 272 L612 279.5"/>
<path d="M618 270 L622 275 L622 276.5"/>
<path d="M632 262 L628 270 L622 276"/>
<ellipse cx="510.5" cy="263.5" rx="6.6" ry="2.6"/>
<path d="M503.8 263.5 L503.8 278 L506 282 L510.5 283.5 L515 282 L517.3 278 L517.3 263.5"/>
<path d="M507 282 L510 277 L516 275" stroke="#555"/>
<ellipse cx="491.5" cy="295.8" rx="11.5" ry="4.4"/>
<path d="M480 296 L480 299.5"/>
<path d="M499 296.5 L503 292.8 L510 294.5 L510 300.5 L505.5 304 L499 302.5 Z" stroke-width="1.4"/>
<path d="M503 292.8 L503 298.5 L499 302" stroke="#555"/>
<path d="M466 282 L472 284 L478 292"/>
<path d="M459.7 286 C459.9 288.7 460.4 296.7 461 302 C461.6 307.3 462.5 312.6 463.3 318 C464.1 323.4 465.2 326.4 465.9 334.6 C466.6 342.8 467.1 354.6 467.5 367 C467.9 379.4 468.2 402 468.4 409" stroke-width="1.4"/>
<path d="M478.6 305.8 L478.6 424.5" stroke-width="1.4"/>
<path d="M482.7 306.5 L482.7 426" stroke-width="1.4"/>
<path d="M472.6 303 L473 330 L473.5 370 L474 410" stroke="#888"/>
<path d="M474.2 312 L474.2 323 L486.6 323 L486.6 312 Z" stroke-width="1.5"/>
<path d="M541.8 308.8 C541.5 312.3 540.8 323 540 330 C539.2 337 537.8 343.8 537 350.8 C536.2 357.8 536 365 535.5 372 C535 379 534.3 386.5 533.7 392.8 C533.1 399.1 532.5 404.6 532 410 C531.5 415.4 530.8 422.5 530.5 425"/>
<path d="M545.8 314 L545.4 322"/>
<path d="M536 335 L534.5 358 L532 385" stroke="#555"/>
<path d="M634 279.5 C633.3 280.6 631.4 283.2 630 286 C628.6 288.8 627 292.3 625.5 296 C624 299.7 622.2 303.8 620.8 308 C619.4 312.2 618.2 315.8 617 321 C615.8 326.2 614.4 333.8 613.5 339 C612.6 344.2 612 347 611.4 352 C610.8 357 610.2 362.5 609.8 369 C609.4 375.5 608.9 385.5 608.8 391 C608.7 396.5 608.9 398.7 609.2 402 C609.5 405.3 609.9 408.5 610.5 411 C611.1 413.5 611.8 415.2 613 417 C614.2 418.8 616.8 420.8 617.5 421.5"/>
<path d="M468.3 408.6 C467.8 409.1 465.9 410.5 465 411.5 C464.1 412.5 463.7 413.1 463 414.5 C462.3 415.9 461.3 419.1 461 420" stroke-width="1.4"/>
<path d="M452.2 422 C453.6 422.2 458.2 422.2 460.3 423 C462.4 423.8 462.1 425.3 464.7 426.5 C467.3 427.7 471.8 429.1 476 430 C480.2 430.9 485.4 431.8 489.9 432.2 C494.4 432.6 498.5 432.6 503 432.6 C507.5 432.6 512.6 432.4 516.8 432 C521 431.6 524.4 430.9 528 430 C531.6 429.1 536.6 427.1 538.3 426.5" stroke-width="1.6"/>
<path d="M464.7 431 C466.8 431.7 472.8 433.8 477 435 C481.2 436.2 487.8 437.7 489.9 438.2" stroke-width="1.4"/>
<path d="M518.6 437.6 L524 436.5 L529.4 434.6" stroke-width="1.4"/>
<path d="M452.2 422 L452.2 445 L463.8 448.5" stroke-width="1.5"/>
<path d="M464.7 427 L464.7 454" stroke-width="1.6"/>
<path d="M452.4 424.3 L464.2 427.6" stroke-width="2.1"/>
<path d="M452.4 428.2 L464.2 431.5" stroke-width="2.1"/>
<path d="M452.4 432.1 L464.2 435.4" stroke-width="2.1"/>
<path d="M452.4 436 L464.2 439.3" stroke-width="2.1"/>
<path d="M452.4 439.9 L464.2 443.2" stroke-width="2.1"/>
<path d="M452.4 443.8 L464.2 447.1" stroke-width="2.1"/>
<path d="M464.7 454 C466.8 454.8 472.9 457.6 477 459 C481.1 460.4 487 461.8 489 462.4" stroke-width="1.4"/>
<path d="M489.5 438.2 L489.5 462.6" stroke-width="1.8"/>
<path d="M489.5 438.2 L512 437.8 L518.6 441.5 L518.6 467 L489.5 462.6" stroke-width="1.5"/>
<path d="M491 441.2 L517.5 443.4" stroke-width="2.3"/>
<path d="M491 445.2 L517.5 447.4" stroke-width="2.3"/>
<path d="M491 449.2 L517.5 451.4" stroke-width="2.3"/>
<path d="M491 453.2 L517.5 455.4" stroke-width="2.3"/>
<path d="M491 457.2 L517.5 459.4" stroke-width="2.3"/>
<path d="M491 461.2 L517.5 463.4" stroke-width="2.3"/>
<path d="M492.5 443.2 L514 445" stroke-width="1" stroke="#666"/>
<path d="M492.5 447.2 L514 449" stroke-width="1" stroke="#666"/>
<path d="M492.5 451.2 L514 453" stroke-width="1" stroke="#666"/>
<path d="M492.5 455.2 L514 457" stroke-width="1" stroke="#666"/>
<path d="M492.5 459.2 L514 461" stroke-width="1" stroke="#666"/>
<path d="M521.5 437 L521.5 465.5" stroke-width="1.5"/>
<path d="M524.5 435.5 L524.5 464.8" stroke-width="2.3"/>
<path d="M528 434.8 L528 462" stroke-width="1.8"/>
<path d="M530.3 436 L530.3 459"/>
<path d="M529.4 430 C532 429.3 539.6 427.3 545 426 C550.4 424.7 558.1 422.6 561.7 422 C565.3 421.4 565.3 422.1 566.5 422.5 C567.7 422.9 568.3 423.4 568.9 424.7 C569.5 425.9 570.1 428.2 570.2 430 C570.4 431.8 570.4 433.2 569.8 435.5 C569.2 437.8 567.9 441.3 566.5 444 C565.1 446.7 564.8 449.3 561.7 451.7 C558.6 454.1 553.4 456.4 548 458.5 C542.6 460.6 532.5 463.2 529.4 464.2" stroke-width="1.5"/>
<path d="M538 428.5 C540.5 427.9 549 425.3 552.7 424.7 C556.4 424.1 558.2 424.4 560 424.7 C561.8 425 562.6 425.4 563.5 426.5 C564.4 427.6 565.1 429.5 565.4 431 C565.7 432.5 565.8 433.5 565.3 435.5 C564.8 437.5 563.7 440.8 562.5 443 C561.3 445.2 560.8 447.1 558 449 C555.2 450.9 550.5 452.9 546 454.5 C541.5 456.1 533.7 458.1 531.2 458.8"/>
<path d="M542.8 428.3 L542.8 449" stroke-width="1.5"/>
<path d="M549 426.5 L549 447" stroke-width="1.4"/>
<path d="M531.2 449.9 L542.8 448.6 L547.3 447.2" stroke-width="1.4"/>
<path d="M531.2 437.3 L531.2 450"/>
<path d="M534 452.5 L547 448.5" stroke="#555"/>
<path d="M463 452 C464.2 453.1 467.4 456.6 470 458.5 C472.6 460.4 474.8 462.1 478.5 463.5 C482.2 464.9 487.3 466.5 492 467.2 C496.7 467.9 502.4 467.8 506.7 467.7 C511 467.6 514.7 466.9 518 466.5 C521.3 466.1 525 465.2 526.4 465"/>
<path d="M462.8 450.8 C460.5 451.4 453.3 453 449 454.2 C444.7 455.4 441.1 456.5 436.8 458 C432.5 459.5 427.5 461.2 423 463 C418.5 464.8 414.1 466.7 409.9 468.7 C405.7 470.7 401.6 472.9 398 475 C394.4 477.1 391 479.3 388.3 481.3 C385.6 483.3 383.6 485.2 382 487 C380.4 488.8 379.3 490.5 378.5 492 C377.7 493.5 377.1 494.8 377 496 C376.9 497.2 377 497.9 377.6 499.2 C378.2 500.4 379 502 380.5 503.5 C382 505 383.6 506.6 386.5 508.2 C389.4 509.8 394.1 511.8 398 513.3 C401.9 514.8 405.7 516.1 409.9 517.2 C414.1 518.3 418.5 519.2 423 520 C427.5 520.8 431.5 521.4 436.8 521.7 C442.1 522 449.3 522 454.8 521.9 C460.3 521.8 464.2 521.6 470 520.8 C475.8 520 483.1 518.5 489.8 517 C496.5 515.5 503.4 513.6 510 511.5 C516.6 509.4 522.4 506.7 529.3 504.4 C536.2 502.1 544.5 500.5 551.3 497.7 C558.1 494.9 563.6 490.9 570 487.5 C576.4 484.1 583.5 480.6 589.7 477 C595.9 473.4 601.5 469.8 607 466 C612.5 462.2 618.7 457.5 623 454 C627.3 450.5 630.2 447.8 633 445 C635.8 442.2 638.6 438.7 639.7 437.4" stroke-width="1.5"/>
<path d="M374.5 496.5 C374.7 497.1 374.6 498.8 375.3 500.3 C376 501.7 377.1 503.6 378.7 505.3 C380.4 506.9 382.2 508.7 385.3 510.4 C388.3 512.1 393.1 514.1 397.1 515.6 C401.1 517.2 405 518.5 409.3 519.6 C413.5 520.8 418 521.7 422.6 522.5 C427.2 523.2 431.3 523.9 436.7 524.2 C442 524.5 449.3 524.6 454.9 524.4 C460.5 524.2 464.4 524.1 470.3 523.3 C476.3 522.4 483.6 521 490.4 519.4 C497.1 517.9 504.1 516 510.8 513.9 C517.4 511.8 523.2 509.1 530.1 506.8 C537 504.5 545.4 502.9 552.3 500 C559.1 497.2 564.7 493.2 571.2 489.7 C577.6 486.2 584.8 482.8 591 479.2 C597.2 475.6 602.8 471.9 608.4 468.1 C614 464.2 620.6 460 624.5 456 C628.4 452 629.5 447.3 632 444.2 C634.5 441.1 638.4 438.5 639.7 437.4"/>
<path d="M382 504.7 L380.4 506.5" stroke-width="1"/>
<path d="M385 507 L383.6 509.1" stroke-width="1"/>
<path d="M387.9 508.8 L386.8 511" stroke-width="1"/>
<path d="M390.8 510.1 L389.7 512.4" stroke-width="1"/>
<path d="M393.7 511.4 L392.7 513.7" stroke-width="1"/>
<path d="M396.6 512.7 L395.6 515" stroke-width="1"/>
<path d="M399.5 513.8 L398.6 516.1" stroke-width="1"/>
<path d="M402.5 514.8 L401.7 517.1" stroke-width="1"/>
<path d="M405.4 515.7 L404.7 518.1" stroke-width="1"/>
<path d="M408.4 516.7 L407.7 519.1" stroke-width="1"/>
<path d="M411.2 517.5 L410.6 519.9" stroke-width="1"/>
<path d="M413.8 518 L413.3 520.5" stroke-width="1"/>
<path d="M416.4 518.6 L415.9 521" stroke-width="1"/>
<path d="M419.1 519.2 L418.6 521.6" stroke-width="1"/>
<path d="M421.7 519.7 L421.3 522.2" stroke-width="1"/>
<path d="M424.4 520.2 L424 522.6" stroke-width="1"/>
<path d="M427.1 520.5 L426.8 523" stroke-width="1"/>
<path d="M429.9 520.9 L429.6 523.3" stroke-width="1"/>
<path d="M432.7 521.2 L432.4 523.7" stroke-width="1"/>
<path d="M435.4 521.5 L435.2 524" stroke-width="1"/>
<path d="M438.3 521.7 L438.2 524.2" stroke-width="1"/>
<path d="M441.3 521.8 L441.2 524.2" stroke-width="1"/>
<path d="M444.3 521.8 L444.2 524.3" stroke-width="1"/>
<path d="M447.3 521.8 L447.3 524.3" stroke-width="1"/>
<path d="M450.3 521.9 L450.3 524.3" stroke-width="1"/>
<path d="M453.3 521.9 L453.3 524.4" stroke-width="1"/>
<path d="M456.3 521.8 L456.4 524.3" stroke-width="1"/>
<path d="M459.4 521.6 L459.5 524.1" stroke-width="1"/>
<path d="M462.4 521.3 L462.6 523.8" stroke-width="1"/>
<path d="M465.4 521.1 L465.7 523.6" stroke-width="1"/>
<path d="M468.5 520.9 L468.8 523.4" stroke-width="1"/>
<path d="M471.4 520.5 L471.8 523" stroke-width="1"/>
<path d="M474.2 520 L474.6 522.5" stroke-width="1"/>
<path d="M477.1 519.4 L477.5 521.9" stroke-width="1"/>
<path d="M479.9 518.9 L480.4 521.4" stroke-width="1"/>
<path d="M482.7 518.4 L483.2 520.8" stroke-width="1"/>
<path d="M485.6 517.8 L486.1 520.3" stroke-width="1"/>
<path d="M488.4 517.3 L488.9 519.7" stroke-width="1"/>
<path d="M491.1 516.7 L491.6 519.1" stroke-width="1"/>
<path d="M493.6 516 L494.2 518.4" stroke-width="1"/>
<path d="M496.1 515.3 L496.7 517.7" stroke-width="1"/>
<path d="M498.6 514.6 L499.3 517" stroke-width="1"/>
<path d="M501.2 513.9 L501.8 516.3" stroke-width="1"/>
<path d="M503.7 513.2 L504.4 515.6" stroke-width="1"/>
<path d="M506.2 512.5 L506.9 514.9" stroke-width="1"/>
<path d="M508.7 511.8 L509.5 514.2" stroke-width="1"/>
<path d="M511.4 511 L512.1 513.4" stroke-width="1"/>
<path d="M514.1 510 L514.9 512.4" stroke-width="1"/>
<path d="M516.9 509 L517.7 511.3" stroke-width="1"/>
<path d="M519.6 507.9 L520.4 510.3" stroke-width="1"/>
<path d="M522.4 506.9 L523.2 509.3" stroke-width="1"/>
<path d="M525.2 505.9 L525.9 508.3" stroke-width="1"/>
<path d="M527.9 504.9 L528.7 507.3" stroke-width="1"/>
<path d="M530.7 504 L531.5 506.3" stroke-width="1"/>
<path d="M533.4 503.1 L534.2 505.5" stroke-width="1"/>
<path d="M536.2 502.3 L537 504.7" stroke-width="1"/>
<path d="M538.9 501.5 L539.8 503.8" stroke-width="1"/>
<path d="M541.7 500.6 L542.6 503" stroke-width="1"/>
<path d="M544.4 499.8 L545.3 502.1" stroke-width="1"/>
<path d="M547.2 499 L548.1 501.3" stroke-width="1"/>
<path d="M549.9 498.1 L550.9 500.4" stroke-width="1"/>
<path d="M552.5 497.1 L553.4 499.4" stroke-width="1"/>
<path d="M554.8 495.8 L555.8 498.1" stroke-width="1"/>
<path d="M557.1 494.5 L558.2 496.8" stroke-width="1"/>
<path d="M559.5 493.2 L560.5 495.5" stroke-width="1"/>
<path d="M561.8 492 L562.9 494.2" stroke-width="1"/>
<path d="M564.2 490.7 L565.3 492.9" stroke-width="1"/>
<path d="M566.5 489.4 L567.6 491.6" stroke-width="1"/>
<path d="M568.8 488.1 L570 490.3" stroke-width="1"/>
<path d="M571.2 486.8 L572.4 489" stroke-width="1"/>
<path d="M573.7 485.5 L574.9 487.7" stroke-width="1"/>
<path d="M576.2 484.2 L577.4 486.4" stroke-width="1"/>
<path d="M578.6 482.9 L579.8 485.1" stroke-width="1"/>
<path d="M581.1 481.6 L582.3 483.8" stroke-width="1"/>
<path d="M583.5 480.3 L584.8 482.5" stroke-width="1"/>
<path d="M586 479 L587.2 481.1" stroke-width="1"/>
<path d="M588.5 477.7 L589.7 479.8" stroke-width="1"/>
<path d="M590.9 476.2 L592.2 478.4" stroke-width="1"/>
<path d="M593.4 474.6 L594.7 476.8" stroke-width="1"/>
<path d="M595.9 473.1 L597.2 475.2" stroke-width="1"/>
<path d="M598.4 471.5 L599.7 473.6" stroke-width="1"/>
<path d="M600.8 469.9 L602.2 472" stroke-width="1"/>
<path d="M603.3 468.4 L604.7 470.4" stroke-width="1"/>
<path d="M605.8 466.8 L607.2 468.9" stroke-width="1"/>
<path d="M608.1 465.1 L609.6 467.2" stroke-width="1"/>
<path d="M610.4 463.4 L611.9 465.5" stroke-width="1"/>
<path d="M612.7 461.7 L614.2 463.8" stroke-width="1"/>
<path d="M615 460 L616.5 462" stroke-width="1"/>
<path d="M617.3 458.3 L618.8 460.3" stroke-width="1"/>
<path d="M619.6 456.6 L621.1 458.6" stroke-width="1"/>
<path d="M621.9 454.9 L623.4 456.9" stroke-width="1"/>
<path d="M570 487 C573.3 485.2 583.5 480.1 589.7 476.5 C595.9 472.9 601.5 469.3 607 465.5 C612.5 461.7 618.7 457.1 623 453.6 C627.3 450.1 630.2 447.3 633 444.6 C635.8 441.9 638.6 438.6 639.7 437.4" stroke-width="2.4"/>
<path d="M462.8 452.6 C461.3 453.4 456.8 455.7 454 457.5 C451.2 459.3 448.5 461.2 445.8 463.3 C443.1 465.4 440.4 467.6 438 470 C435.6 472.4 433.2 475.4 431.4 477.7 C429.6 480 428.2 481.9 427 484 C425.8 486.1 424.9 488.3 424.2 490.3 C423.4 492.3 422.9 494.2 422.5 496 C422.1 497.8 422.2 499.6 421.5 501 C420.8 502.4 418.6 504 418 504.6"/>
<path d="M424.2 502.8 C428.2 502.4 439.9 501.4 448 500.5 C456.1 499.6 464 498.7 472.7 497.4 C481.4 496.1 491.3 494.8 500 492.6 C508.7 490.5 516.5 487.5 525 484.5 C533.5 481.5 542.1 478.1 551.3 474.6 C560.5 471.1 571.5 466.9 580 463.5 C588.5 460.1 595.6 456.9 602.6 454 C609.6 451.1 615.8 448.8 622 446 C628.2 443.2 636.8 438.8 639.7 437.4"/>
<path d="M426 492 C429.2 491.6 438.4 490.2 445 489.3 C451.6 488.4 458.8 487.5 465.5 486.4 C472.2 485.3 479.2 483.7 485 482.6 C490.8 481.5 495.5 480.7 500 479.7 C504.5 478.7 507.7 477.8 512 476.5 C516.3 475.2 523.3 472.8 525.6 472"/>
<ellipse cx="439.5" cy="483.2" rx="4.8" ry="2.3" stroke-width="2"/>
<ellipse cx="453" cy="478.8" rx="6.6" ry="3.3" stroke-width="1.6"/>
<path d="M472.7 457 C473.9 457.6 477.3 459.6 480 460.5 C482.7 461.4 487.4 462.1 488.9 462.4"/>
<path d="M623 454 L645.8 442.5 L665.7 428.8 L662.4 423.3" stroke-width="1.4"/>
<path d="M610 390 C610.2 392.5 610.5 400.7 611 405 C611.5 409.3 611.8 412.8 612.8 415.6 C613.8 418.4 615.3 420.3 617 422 C618.7 423.7 620.3 425 623 426 C625.7 427 629.6 427.8 633 428.2 C636.4 428.6 638.4 428.4 643.6 428.5 C648.8 428.6 660.6 428.5 664 428.5"/>
<path d="M619.3 421.2 C622.2 420.8 631.7 419.4 637 418.8 C642.3 418.2 647.4 417.3 651.3 417.3 C655.2 417.3 658.4 418 660.2 419 C662.1 420 662 422.6 662.4 423.3" stroke-width="1.5"/>
<path d="M626 425.5 L640 421.5 L652 420" stroke-width="1.8"/>
<path d="M636 424.5 L648 421.5 L658 423" stroke-width="1.8"/>
<path d="M645 419.5 L645 427.5"/>
<path d="M652 418.5 L652 428"/>
<path d="M640.8 405.4 L640.8 423.3" stroke-width="1.5" stroke="#444"/>
<path d="M644 261.5 L678.7 255"/>
<!-- bolt 15 -->
<path d="M586.4 300.5 L586.4 312.8 L640.3 332 L640.3 336"/>
<path d="M637 337 L637 367 L644 367 L644 337" stroke-width="1.5" fill="#777"/>
<ellipse cx="640.5" cy="337" rx="3.5" ry="1.2"/>
<path d="M637 340.4 L644 340.4" stroke-width="1"/>
<path d="M637 343.1 L644 343.1" stroke-width="1"/>
<path d="M637 345.8 L644 345.8" stroke-width="1"/>
<path d="M637 348.4 L644 348.4" stroke-width="1"/>
<path d="M637 351.1 L644 351.1" stroke-width="1"/>
<path d="M637 353.9 L644 353.9" stroke-width="1"/>
<path d="M637 356.6 L644 356.6" stroke-width="1"/>
<path d="M637 359.2 L644 359.2" stroke-width="1"/>
<path d="M637 361.9 L644 361.9" stroke-width="1"/>
<path d="M637 364.6 L644 364.6" stroke-width="1"/>
<ellipse cx="639.5" cy="370.6" rx="8" ry="3.6" stroke-width="1.5"/>
<ellipse cx="639.5" cy="369.6" rx="4.2" ry="1.8"/>
<path d="M645.4 355 L678.7 350"/>
<!-- plug 9 -->
<path d="M623.6 392.3 L637.7 389.7 L653 390.3 L659.5 394.9 L649.2 401.3 L632.6 401.3 Z" stroke-width="1.5"/>
<path d="M629 393 L638 391.5 L650 392 L654 395 L647 399 L634 399 Z"/>
<path d="M632.6 401.3 C632.8 401.8 632.6 403.8 634 404.5 C635.4 405.2 638.7 405.8 641 405.8 C643.3 405.8 646.6 405.2 648 404.5 C649.4 403.8 649 401.8 649.2 401.3"/>
<path d="M631.9 396.4 L637.1 393.6" stroke-width="1"/>
<path d="M633.7 397.4 L639.3 394.8" stroke-width="1"/>
<path d="M635.5 398.2 L641.5 396" stroke-width="1"/>
<path d="M637.3 399.1 L643.7 397.2" stroke-width="1"/>
<path d="M639.1 400.1 L645.9 398.4" stroke-width="1"/>
<path d="M659.5 394.4 L682.6 389.2"/>
<!-- part 16 -->
<path d="M490.7 521 L490.7 535" stroke-width="1.8" stroke="#888"/>
<path d="M477.3 536.5 L477.3 548.5 L482 551.5 L490.7 552.6 L499.5 551.5 L504 548.5 L504 536.5" stroke-width="1.5" fill="#9a9a9a"/>
<path d="M479.5 538 L479.5 550" stroke-width="1"/>
<path d="M481.6 538 L481.6 550" stroke-width="1"/>
<path d="M483.6 538 L483.6 550" stroke-width="1"/>
<path d="M485.6 538 L485.6 550" stroke-width="1"/>
<path d="M487.7 538 L487.7 550" stroke-width="1"/>
<path d="M489.7 538 L489.7 550" stroke-width="1"/>
<path d="M491.8 538 L491.8 550" stroke-width="1"/>
<path d="M493.8 538 L493.8 550" stroke-width="1"/>
<path d="M495.9 538 L495.9 550" stroke-width="1"/>
<path d="M497.9 538 L497.9 550" stroke-width="1"/>
<path d="M499.9 538 L499.9 550" stroke-width="1"/>
<path d="M502 538 L502 550" stroke-width="1"/>
<ellipse cx="490.7" cy="536.5" rx="13.3" ry="4.6" stroke-width="1.5" fill="#e6e6e6"/>
<ellipse cx="490.7" cy="536.7" rx="6.5" ry="2.2" stroke-width="1.4"/>
<path d="M504 542 L541.5 538"/>
<!-- part 17 -->
<path d="M484.5 570 A13.5 5 0 1 1 497.5 570.4" stroke-width="1.5"/>
<path d="M484.5 568 A9.5 3.2 0 1 1 496.5 568.4" />
<path d="M478 565.8 L480.5 568.3 L484.5 568.8" stroke-width="1.6"/>
<path d="M497.5 570.4 L494 568.8 L496.5 568.4"/>
<path d="M504 565.6 L542.6 566.7"/>
<!-- part 18 -->
<path d="M93.1 422.4 C94.1 420.9 96.7 416 99.4 413.5 C102.1 411 106.7 409.4 109.2 407.2 C111.7 405 112.5 402.6 114.5 400.5 C116.5 398.4 118.5 396.4 120.9 394.6 C123.3 392.8 126 391.1 129 389.5 C132 387.9 135.4 386.1 138.9 384.7 C142.4 383.3 146.1 382.2 150 381 C153.9 379.8 157.4 378.9 162.2 377.4 C167 375.9 173.6 373.8 178.7 372.2 C183.8 370.6 188.2 369.2 192.7 367.8 C197.2 366.4 200.7 365.2 205.9 363.6 C211.1 362 218 360 224 358.3 C230 356.6 235.8 355 241.8 353.5 C247.8 352 254 350.7 260 349.3 C266 347.9 271.8 346.6 277.7 345.4 C283.6 344.2 291.5 342.6 295.7 342.2 C299.9 341.8 301.5 342.2 302.8 342.7 C304.1 343.2 303.6 344.9 303.7 345.4" stroke-width="1.5"/>
<path d="M109.2 407.2 C110 408.6 111.9 413.7 113.7 415.3 C115.5 416.9 117.3 416.7 120 417 C122.7 417.3 126.1 417.2 129.9 417 C133.7 416.8 138.5 416.4 143 415.8 C147.5 415.2 151.5 414.6 156.8 413.5 C162.1 412.4 169 410.6 175 409 C181 407.4 187.2 405.4 192.7 403.6 C198.2 401.8 202.6 399.9 208 398 C213.4 396.1 219.4 394.1 225 391.9 C230.6 389.7 236 387.7 241.8 385 C247.6 382.3 254 379 260 375.5 C266 372 272.5 367.4 277.7 364 C282.9 360.6 286.8 357.8 291 355 C295.2 352.2 300.8 348.5 302.8 347.2" stroke-width="1.5"/>
<path d="M113.7 407.2 C114.4 406.3 116.2 403.6 118 402 C119.8 400.4 122 399.1 124.5 397.3 C127 395.6 130 393.1 133 391.5 C136 389.9 139.2 388.6 142.4 387.4 C145.6 386.2 149 385.6 152 384.5 C155 383.4 156.5 382.4 160.4 381 C164.3 379.6 170.5 377.8 175.4 376.2 C180.3 374.6 184.9 373.2 190 371.6 C195.1 370 200.2 368.4 205.9 366.6 C211.6 364.8 218 362.7 224 361 C230 359.3 235.8 357.7 241.8 356.2 C247.8 354.7 254 353.4 260 352 C266 350.6 272.1 349.2 277.7 348.1 C283.3 347 290.3 345.8 293.9 345.4 C297.4 345 298.1 345.9 299 346"/>
<path d="M114.6 409.9 C115.7 410 118.5 410.6 121 410.8 C123.5 411 126.2 411 129.9 410.8 C133.6 410.6 138.5 410.1 143 409.5 C147.5 408.9 151.5 408.4 156.8 407.2 C162.1 406 169 404.1 175 402.5 C181 400.9 187.2 399.1 192.7 397.3 C198.2 395.5 202.6 393.6 208 391.5 C213.4 389.4 219.4 386.8 225 384.7 C230.6 382.6 236 381.1 241.8 378.6 C247.6 376.2 254 372.9 260 370 C266 367.1 272.7 364.2 277.7 361.5 C282.7 358.8 286.6 355.6 290 353.5 C293.4 351.4 296.7 349.8 298 349"/>
<path d="M92.8 419.4 C92.9 420.1 93 422.2 93.5 423.5 C94 424.8 94.4 426.2 96 427.4 C97.6 428.6 100.3 429.7 103 430.5 C105.7 431.3 106.7 431.7 112 432 C117.3 432.3 127 432.5 135 432.3 C143 432.1 151.7 431.9 160 430.6 C168.3 429.3 177 426.9 185 424.5 C193 422.1 200.4 418.9 208.2 416 C216 413.1 224 410.2 232 407 C240 403.8 249 400.7 256.3 397 C263.6 393.3 270.1 389.1 276 385 C281.9 380.9 287.3 376.4 292 372.5 C296.7 368.6 301.8 364.3 304.4 361.7 C307 359.1 307.6 359.3 307.6 356.9 C307.6 354.5 304.9 348.8 304.4 347.2" stroke-width="2"/>
<path d="M95.5 421.8 C96.1 422.4 97.2 424.4 99 425.3 C100.8 426.2 103.5 426.8 106 427.3 C108.5 427.8 109 428 114 428.1 C119 428.2 128.3 428.4 136 428.1 C143.7 427.8 152 427.5 160 426.2 C168 424.9 176.1 422.7 184 420.3 C191.9 417.9 199.7 414.7 207.5 411.8 C215.3 408.9 223.1 406 231 402.8 C238.9 399.6 247.8 396.4 255 392.8 C262.2 389.2 268.6 385.1 274.5 381.1 C280.4 377.1 285.8 372.6 290.5 368.8 C295.2 365 300 360.8 302.5 358.3 C305 355.8 305 354.6 305.5 353.8"/>
<path d="M137.4 428 L137.8 431.7" stroke-width="1"/>
<path d="M140.1 427.4 L140.5 431.1" stroke-width="1"/>
<path d="M142.9 426.7 L143.3 430.4" stroke-width="1"/>
<path d="M145.6 426.1 L146.1 429.8" stroke-width="1"/>
<path d="M148.4 425.5 L148.8 429.2" stroke-width="1"/>
<path d="M151.1 424.9 L151.6 428.6" stroke-width="1"/>
<path d="M153.9 424.2 L154.3 427.9" stroke-width="1"/>
<path d="M156.6 423.6 L157.1 427.3" stroke-width="1"/>
<path d="M159.4 423 L159.9 426.7" stroke-width="1"/>
<path d="M162.1 422.3 L162.6 426.1" stroke-width="1"/>
<path d="M164.9 421.7 L165.4 425.5" stroke-width="1"/>
<path d="M167.6 421.1 L168.2 424.8" stroke-width="1"/>
<path d="M170.4 420.5 L170.9 424.2" stroke-width="1"/>
<path d="M173.1 419.8 L173.7 423.6" stroke-width="1"/>
<path d="M175.9 419.2 L176.4 423" stroke-width="1"/>
<path d="M178.6 418.6 L179.2 422.3" stroke-width="1"/>
<path d="M181.4 418 L182 421.7" stroke-width="1"/>
<path d="M184.1 417.3 L184.7 421.1" stroke-width="1"/>
<path d="M186.9 416.7 L187.5 420.5" stroke-width="1"/>
<path d="M189.6 416.1 L190.2 419.9" stroke-width="1"/>
<path d="M192.4 415.4 L193 419.2" stroke-width="1"/>
<path d="M195.1 414.8 L195.8 418.6" stroke-width="1"/>
<path d="M197.9 414.2 L198.5 418" stroke-width="1"/>
<path d="M200.6 413.6 L201.3 417.4" stroke-width="1"/>
<path d="M203.4 412.9 L204.1 416.7" stroke-width="1"/>
<path d="M206.1 412.3 L206.8 416.1" stroke-width="1"/>
<path d="M209.8 411 L210.8 414.9" stroke-width="1"/>
<path d="M212.3 409.9 L213.3 413.8" stroke-width="1"/>
<path d="M214.8 408.7 L215.8 412.6" stroke-width="1"/>
<path d="M217.3 407.5 L218.4 411.4" stroke-width="1"/>
<path d="M219.8 406.4 L220.9 410.3" stroke-width="1"/>
<path d="M222.4 405.2 L223.5 409.1" stroke-width="1"/>
<path d="M224.9 404.1 L226 407.9" stroke-width="1"/>
<path d="M227.4 402.9 L228.5 406.8" stroke-width="1"/>
<path d="M229.9 401.7 L231.1 405.6" stroke-width="1"/>
<path d="M232.4 400.6 L233.6 404.4" stroke-width="1"/>
<path d="M235 399.4 L236.2 403.3" stroke-width="1"/>
<path d="M237.5 398.2 L238.7 402.1" stroke-width="1"/>
<path d="M240 397.1 L241.2 400.9" stroke-width="1"/>
<path d="M242.5 395.9 L243.8 399.8" stroke-width="1"/>
<path d="M245 394.8 L246.3 398.6" stroke-width="1"/>
<path d="M247.5 393.6 L248.8 397.4" stroke-width="1"/>
<path d="M250.1 392.4 L251.4 396.3" stroke-width="1"/>
<path d="M252.6 391.3 L253.9 395.1" stroke-width="1"/>
<path d="M255.1 390.1 L256.5 393.9" stroke-width="1"/>
<path d="M257.6 388.9 L259 392.8" stroke-width="1"/>
<path d="M260.1 387.8 L261.5 391.6" stroke-width="1"/>
<path d="M262.7 386.6 L264.1 390.4" stroke-width="1"/>
<path d="M265.2 385.5 L266.6 389.3" stroke-width="1"/>
<path d="M267.7 384.3 L269.2 388.1" stroke-width="1"/>
<path d="M270.2 383.1 L271.7 386.9" stroke-width="1"/>
<path d="M272.7 382 L274.2 385.8" stroke-width="1"/>
<path d="M276.4 379.7 L278.4 383.4" stroke-width="1"/>
<path d="M279.1 377.5 L281.1 381.2" stroke-width="1"/>
<path d="M281.8 375.3 L283.8 378.9" stroke-width="1"/>
<path d="M284.4 373.1 L286.4 376.7" stroke-width="1"/>
<path d="M287.1 370.9 L289.1 374.5" stroke-width="1"/>
<path d="M289.9 368.7 L291.9 372.2" stroke-width="1"/>
<path d="M292.6 366.5 L294.6 370" stroke-width="1"/>
<path d="M295.2 364.3 L297.2 367.8" stroke-width="1"/>
<path d="M297.9 362.1 L299.9 365.5" stroke-width="1"/>
<path d="M300.6 359.9 L302.6 363.3" stroke-width="1"/>
<path d="M92.8 419.4 C94.7 418.9 99.7 417.6 104 416.5 C108.3 415.4 116.1 413.2 118.5 412.6"/>
<path d="M110.4 406.5 L110.4 417"/>
<path d="M110.4 433 C110.5 434.2 110.5 437.7 110.8 440 C111.1 442.3 110.8 444.8 112 446.6 C113.2 448.4 115.3 449.9 118 451 C120.7 452.1 123.8 452.8 128 453 C132.2 453.2 137.7 452.8 143 452.3 C148.3 451.8 153.2 451.5 160 449.8 C166.8 448.1 176 445 184 442 C192 439 200.9 435.1 208.2 432 C215.5 428.9 221.6 426.4 228 423.5 C234.4 420.6 240.9 417.5 246.7 414.6 C252.5 411.7 257.7 408.9 263 406 C268.3 403.1 274 400 278.7 397 C283.4 394 287.3 390.9 291 388 C294.7 385.1 298.9 382.3 301 379.3 C303.1 376.3 302.9 372.9 303.5 370 C304.1 367.1 304.2 363.1 304.4 361.7" stroke-width="1.5"/>
<path d="M177.2 375.9 L200.5 368.7 L204 369.5 L229.2 380.4 L227 382.5 L205.9 389.4 L202 389 Z" stroke-width="1.5"/>
<path d="M208.5 367.8 L221.5 364.5 L225 365 L240.9 372.5 L240 375 L230.5 377 L226 376.5 Z" stroke-width="1.5"/>
<path d="M225.6 362.4 L249 356.2 L264 352.5 L272 351.5" stroke-width="1.4"/>
<path d="M225.6 362.8 L247.2 371.4 L262 366 L277.7 358 L284 354" stroke-width="1.5"/>
<path d="M140.6 391 L160 384.5 L176.5 379.4 L180 380 L205.3 390.1 L200 393 L171.2 402.7 L156.8 405.4" stroke-width="1.5"/>
<path d="M142.4 392.5 L164 403.6" stroke-width="1.5"/>
<path d="M145.5 391 L167 402"/>
<ellipse cx="165.5" cy="403" rx="3" ry="1.5"/>
<ellipse cx="144" cy="391.5" rx="2.2" ry="1.2"/>
<path d="M191.5 372.5 L191.5 383" stroke-width="1.6" stroke="#555"/>
<path d="M194.5 371.5 L194.5 382" stroke="#777"/>
<ellipse cx="198.7" cy="371.6" rx="2.8" ry="1.3"/>
<path d="M206.8 374.1 L204.1 386.7"/>
<path d="M196 372.5 L196 380" stroke="#666"/>
<path d="M218 379 L222 380.4 L224 379"/>
<ellipse cx="221.5" cy="379" rx="2.2" ry="1.3"/>
<path d="M179.5 376.5 L179.5 381 L202 389" stroke="#444"/>
<path d="M210.5 368.5 L210.5 372 L227 378" stroke="#555"/>
<path d="M249 357 L249 369.6" stroke-width="1.6"/>
<path d="M261.5 355 L261.5 366.5" stroke-width="1.6"/>
<ellipse cx="255.2" cy="356" rx="6.2" ry="1.8"/>
<path d="M263.5 353.5 L263.5 364" stroke-width="1.4"/>
<path d="M269.6 352.5 L269.6 361.5" stroke-width="1.4"/>
<path d="M252 358 L252 369" stroke="#777"/>
<path d="M258 357 L258 368" stroke="#777"/>
<path d="M228 363.5 L228 366 L246 373" stroke="#555"/>
<path d="M272.3 352.6 L277 350 L284 349.5 L290 351.5 L284 354" stroke-width="1.4"/>
<path d="M276 348.5 L288 346 L294 346.5 L297 348 L291 351"/>
<ellipse cx="281" cy="351.8" rx="2.2" ry="1.2"/>
<path d="M115.5 406.3 C115.7 405.7 115.9 403.6 116.5 402.5 C117.1 401.4 117.8 400.9 119.1 400 C120.3 399.1 122.2 398.1 124 397.3 C125.8 396.6 128.2 395.8 129.9 395.5 C131.6 395.2 132.8 395.2 134 395.3 C135.2 395.4 136.5 396.2 137 396.4" stroke-width="1.5"/>
<path d="M115.5 406.3 C115.9 406.8 116.4 408.4 118 409 C119.6 409.6 122.5 410.1 125 410.2 C127.5 410.3 131.7 409.6 133 409.5"/>
<path d="M123.6 399.5 L123.6 410" stroke-width="1.6"/>
<path d="M126.8 398 L126.8 410" stroke-width="1.6" stroke="#444"/>
<path d="M129.9 397 L129.9 410" stroke-width="1.8"/>
<path d="M120.5 401 L120.5 408.5" stroke="#666"/>
<path d="M133 396.5 L133 408" stroke="#555"/>
<path d="M137 396.4 L137 407.5 L133 409.5"/>
<path d="M139.5 391.5 L139.5 406" stroke-width="1.4"/>
<path d="M141 403 L150 405.5 L156.8 405.4"/>
<ellipse cx="149" cy="406.5" rx="2.4" ry="1.2"/>
<!-- stud 20 -->
<path d="M162.4 333 L162.4 389 L170.8 389 L170.8 333" stroke-width="1.4"/>
<ellipse cx="166.6" cy="333" rx="4.2" ry="1.4" stroke-width="1.4"/>
<path d="M162.4 335.3 L170.8 335.3" stroke-width="1.1"/>
<path d="M162.4 337 L170.8 337" stroke-width="1.1"/>
<path d="M162.4 338.7 L170.8 338.7" stroke-width="1.1"/>
<path d="M162.4 384.2 L170.8 384.2" stroke-width="1.1"/>
<path d="M162.4 385.8 L170.8 385.8" stroke-width="1.1"/>
<path d="M162.4 387.2 L170.8 387.2" stroke-width="1.1"/>
<path d="M162.4 388.8 L170.8 388.8" stroke-width="1.1"/>
<path d="M165 341 L165 383" stroke="#999"/>
<path d="M166.5 391.5 L166.5 400.5" stroke-width="1.6" stroke="#888"/>
<path d="M133.6 342 L162.3 355.4"/>
<!-- pins 19 -->
<path d="M135.8 373 L135.8 377 L138.8 378.5 L141.8 377 L141.8 373"/>
<ellipse cx="138.8" cy="373" rx="3" ry="1.2"/>
<path d="M138.2 379.5 L138.2 410.8"/>
<path d="M108 370.8 L135.6 374.9"/>
<path d="M252.6 336.2 L252.6 340.3 L255.6 341.6 L258.6 340.3 L258.6 336.2"/>
<ellipse cx="255.6" cy="336.2" rx="3" ry="1.2"/>
<path d="M255.6 342.4 L255.6 355"/>
<path d="M285 324.8 L259.5 336"/>
<path d="M272.3 429 L243.5 416"/>
<!-- washers -->
<path d="M166.5 449.8 L166.5 464.5" stroke-width="1.6" stroke="#555"/>
<ellipse cx="166.5" cy="467.4" rx="8" ry="3"/>
<ellipse cx="164.3" cy="467.4" rx="2.4" ry="1.6" stroke-width="1"/>
<ellipse cx="169" cy="467.4" rx="2.2" ry="1.5" stroke-width="1"/>
<ellipse cx="166.5" cy="479.3" rx="8" ry="3"/>
<ellipse cx="166.5" cy="479.1" rx="3.6" ry="1.5" stroke-width="1"/>
<path d="M163 477.5 L163 480.5"/>
<path d="M170 477.5 L170 480.5"/>
<ellipse cx="166.5" cy="490.2" rx="7.4" ry="3.6" stroke-width="1.8"/>
<ellipse cx="166.5" cy="489.6" rx="3.6" ry="1.8" stroke-width="1.5"/>
<path d="M160.5 488 L163 491.8 L170 491.8 L172.5 488"/>
<path d="M174.6 467.4 L208.2 464.2"/>
<path d="M174.6 479.2 L208.2 477.7"/>
<path d="M174.6 490.5 L208.2 490.8"/>
<ellipse cx="140" cy="543" rx="0.5" ry="0.5" fill="#444"/>
</g>
<g font-family="'Liberation Sans', Arial, sans-serif" fill="#1c1c1c" stroke="#1c1c1c" stroke-width="0.4" text-anchor="middle">
<text transform="translate(118.4 64.4) scale(1.8 1)" font-size="9.7" font-weight="normal">13</text>
<text transform="translate(219.7 98.2) scale(1.8 1)" font-size="9.7" font-weight="normal">3</text>
<text transform="translate(385.6 85.1) scale(1.8 1)" font-size="9.7" font-weight="normal">11</text>
<text transform="translate(118.7 152.3) scale(1.8 1)" font-size="9.7" font-weight="normal">1</text>
<text transform="translate(118.5 198.2) scale(1.8 1)" font-size="9.7" font-weight="normal">2</text>
<text transform="translate(118.7 247) scale(1.8 1)" font-size="9.7" font-weight="normal">12</text>
<text transform="translate(652.5 42.8) scale(1.8 1)" font-size="9.7" font-weight="normal">5</text>
<text transform="translate(641.7 88.8) scale(1.8 1)" font-size="9.7" font-weight="normal">4</text>
<text transform="translate(447.4 137.9) scale(1.8 1)" font-size="9.7" font-weight="normal">7</text>
<text transform="translate(447.4 158.4) scale(1.8 1)" font-size="9.7" font-weight="normal">6</text>
<text transform="translate(447.4 178.9) scale(1.8 1)" font-size="9.7" font-weight="normal">7</text>
<text transform="translate(447.4 199.4) scale(1.8 1)" font-size="9.7" font-weight="normal">6</text>
<text transform="translate(667 157.8) scale(1.8 1)" font-size="9.7" font-weight="normal">10</text>
<text transform="translate(467.3 225) scale(1.8 1)" font-size="9.7" font-weight="normal">14</text>
<text transform="translate(687.4 257.8) scale(1.8 1)" font-size="9.7" font-weight="normal">8</text>
<text transform="translate(690.3 353.2) scale(1.8 1)" font-size="9.7" font-weight="normal">15</text>
<text transform="translate(689.5 392.3) scale(1.8 1)" font-size="9.7" font-weight="normal">9</text>
<text transform="translate(553.3 538.8) scale(1.8 1)" font-size="9.7" font-weight="normal">16</text>
<text transform="translate(552.8 570.8) scale(1.8 1)" font-size="9.7" font-weight="normal">17</text>
<text transform="translate(125 340.6) scale(1.8 1)" font-size="9.7" font-weight="normal">20</text>
<text transform="translate(94.8 369.8) scale(1.8 1)" font-size="9.7" font-weight="normal">19</text>
<text transform="translate(294.6 324.3) scale(1.8 1)" font-size="9.7" font-weight="normal">19</text>
<text transform="translate(280.8 436.4) scale(1.8 1)" font-size="9.7" font-weight="normal">18</text>
<text transform="translate(219.2 465.8) scale(1.8 1)" font-size="9.7" font-weight="normal">23</text>
<text transform="translate(219.2 479.9) scale(1.8 1)" font-size="9.7" font-weight="normal">22</text>
<text transform="translate(218.2 493.6) scale(1.8 1)" font-size="9.7" font-weight="normal">21</text>
<text transform="translate(317.6 507.6) scale(1.6 1)" font-size="9" font-weight="bold">X</text>
</g>
</g>
</svg>
</div>
</body>
</html>
